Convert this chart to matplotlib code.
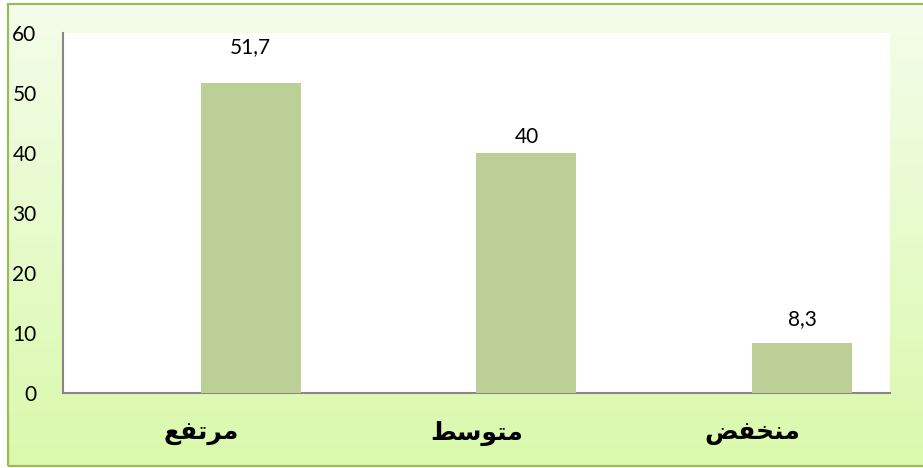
import matplotlib
matplotlib.use("Agg")

import numpy as np
import matplotlib.pyplot as plt
from matplotlib.patches import Rectangle

# data
categories = ["مرتفع", "متوسط", "منخفض"]
values = [51.7, 40, 8.3]
y_ticks = [0, 10, 20, 30, 40, 50, 60]

# label offsets above the bar tops (px), as placed in the original
label_offsets = [26, 6, 14]

# minimal Arabic shaping (matplotlib does no text shaping)
FORMS = {
    "م": ("\uFEE1", "\uFEE2", "\uFEE3", "\uFEE4"),
    "ر": ("\uFEAD", "\uFEAE", None, None),
    "ت": ("\uFE95", "\uFE96", "\uFE97", "\uFE98"),
    "ف": ("\uFED1", "\uFED2", "\uFED3", "\uFED4"),
    "ع": ("\uFEC9", "\uFECA", "\uFECB", "\uFECC"),
    "و": ("\uFEED", "\uFEEE", None, None),
    "س": ("\uFEB1", "\uFEB2", "\uFEB3", "\uFEB4"),
    "ط": ("\uFEC1", "\uFEC2", "\uFEC3", "\uFEC4"),
    "ن": ("\uFEE5", "\uFEE6", "\uFEE7", "\uFEE8"),
    "خ": ("\uFEA5", "\uFEA6", "\uFEA7", "\uFEA8"),
    "ض": ("\uFEBD", "\uFEBE", "\uFEBF", "\uFEC0"),
}


def shape_arabic(word):
    out = []
    for i, ch in enumerate(word):
        f = FORMS.get(ch)
        if f is None:
            out.append(ch)
            continue
        prev = word[i - 1] if i > 0 else None
        nxt = word[i + 1] if i < len(word) - 1 else None
        jp = prev in FORMS and FORMS[prev][2] is not None
        jn = nxt in FORMS and f[2] is not None
        if jp and jn:
            out.append(f[3])
        elif jp:
            out.append(f[1])
        elif jn:
            out.append(f[2])
        else:
            out.append(f[0])
    return "".join(reversed(out))


W, H = 923, 468
fig = plt.figure(figsize=(W / 100, H / 100), dpi=100)
fig.patch.set_facecolor("white")

# gradient chart area background
bg = fig.add_axes([8 / W, 2 / H, (W - 8) / W, (H - 6) / H])
grad = np.linspace(0, 1, 256).reshape(-1, 1)
top_c = np.array([0xF4, 0xFD, 0xEA]) / 255
bot_c = np.array([0xDA, 0xF9, 0xAC]) / 255
img = top_c[None, None, :] * (1 - grad[:, :, None]) + bot_c[None, None, :] * grad[:, :, None]
bg.imshow(img, aspect="auto", extent=[0, 1, 0, 1])
bg.set_axis_off()
fig.patches.append(Rectangle((8 / W, 2 / H), 1.0, (H - 6) / H, transform=fig.transFigure,
                             fill=False, edgecolor="#9bbb59", lw=1.6, zorder=5))

ax = fig.add_axes([63 / W, (H - 393) / H, (890 - 63) / W, (393 - 33) / H])
ax.set_facecolor("white")

x = np.arange(len(categories))
bar_w = 100 / 275.7
ax.bar(x + bar_w / 2, values, width=bar_w, color="#bbcf96", zorder=3)

for xi, v, off in zip(x, values, label_offsets):
    txt = f"{v:g}".replace(".", ",")
    ax.annotate(txt, (xi + bar_w / 2, v), xytext=(0, off * 0.72), textcoords="offset points",
                ha="center", va="bottom", fontsize=15, color="black", family="Lato")

ax.set_xlim(-0.5, len(categories) - 0.5)
ax.set_ylim(0, 60)
ax.set_yticks(y_ticks)
ax.set_yticklabels([str(t) for t in y_ticks], fontsize=15, family="Lato")
ax.tick_params(axis="y", length=0, pad=19)
ax.set_xticks(x)
ax.set_xticklabels([shape_arabic(c) for c in categories], fontsize=18, fontweight="bold",
                   family="DejaVu Sans")
ax.tick_params(axis="x", length=0, pad=20)

for s in ["top", "right"]:
    ax.spines[s].set_visible(False)
for s in ["left", "bottom"]:
    ax.spines[s].set_color("#878787")
    ax.spines[s].set_linewidth(1.5)

fig.savefig("out.png", dpi=100)
